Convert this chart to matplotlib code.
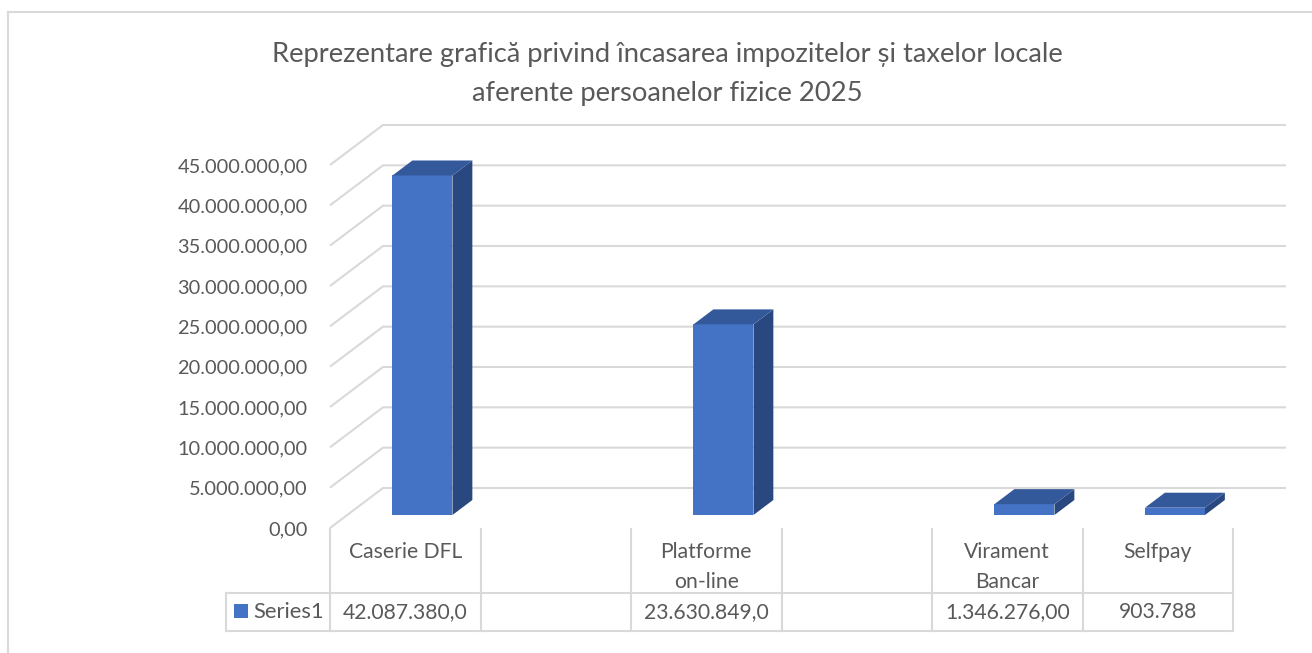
import matplotlib
matplotlib.use("Agg")
import matplotlib.pyplot as plt
from matplotlib.patches import Polygon, Rectangle
from matplotlib.lines import Line2D
import matplotlib.transforms as mtransforms

# ---------------- data ----------------
categories = ["Caserie DFL", "", "Platforme\non-line", "", "Virament\nBancar", "Selfpay"]
values = [42087380.0, None, 23630849.0, None, 1346276.00, 903788.0]
table_values = ["42.087.380,0", "", "23.630.849,0", "", "1.346.276,00", "903.788"]
series_name = "Series1"
yticks = [0, 5e6, 10e6, 15e6, 20e6, 25e6, 30e6, 35e6, 40e6, 45e6]
title = "Reprezentare grafică privind încasarea impozitelor și taxelor locale\naferente persoanelor fizice 2025"

# ---------------- style ----------------
W, H = 1312, 653
FRONT = "#4472C4"
TOP = "#34599B"
SIDE = "#294880"
GRID = "#D9D9D9"
TXT = "#595959"
FONT = "Lato"

plt.rcParams["font.family"] = [FONT, "DejaVu Sans"]

fig = plt.figure(figsize=(W / 100, H / 100), dpi=100)


def fx(px):
    return px / W


def fy(py):
    return 1 - py / H


# plot front plane in pixels
x0p, x1p = 330, 1233
y0p, y45p = 528, 165
ax = fig.add_axes([fx(x0p), fy(y0p), fx(x1p) - fx(x0p), fy(y45p) - fy(y0p)])
n = len(categories)
ax.set_xlim(0, n)
ax.set_ylim(0, 45e6)
for s in ax.spines.values():
    s.set_visible(False)
ax.set_xticks([])

px_per_cat = (x1p - x0p) / n
px_per_val = (y0p - y45p) / 45e6
DX = 53 / px_per_cat          # depth offset in category units
DY = 40 / px_per_val          # depth offset in value units


def fmt(v):
    s = f"{v:,.2f}"
    return s.replace(",", "X").replace(".", ",").replace("X", ".")


ax.set_yticks(yticks)
ax.set_yticklabels([fmt(v) for v in yticks], color=TXT, fontsize=14.4)
ax.tick_params(axis="y", length=0, pad=16)

# gridlines (side wall diagonal + back wall horizontal)
for v in yticks:
    ax.plot([0, DX, n + DX], [v, v + DY, v + DY], color=GRID, lw=1.5,
            clip_on=False, zorder=1, solid_capstyle="butt")

# bars (pseudo 3D)
f0, f1 = 0.325, 0.70
bw = 60 / px_per_cat
for i, v in enumerate(values):
    if v is None:
        continue
    xc = i + 0.5 + f0 * DX
    xl, xr = xc - bw / 2, xc + bw / 2
    b = f0 * DY
    ax.bar([xc], [v], width=bw, bottom=b, color=FRONT, zorder=3, clip_on=False,
           edgecolor="none")
    ddx = (f1 - f0) * DX
    ddy = (f1 - f0) * DY
    side = Polygon([(xr, b), (xr + ddx, b + ddy), (xr + ddx, b + v + ddy), (xr, b + v)],
                   closed=True, facecolor=SIDE, edgecolor="none", zorder=3, clip_on=False)
    top = Polygon([(xl, b + v), (xr, b + v), (xr + ddx, b + v + ddy), (xl + ddx, b + v + ddy)],
                  closed=True, facecolor=TOP, edgecolor="none", zorder=3, clip_on=False)
    ax.add_patch(side)
    ax.add_patch(top)

# ---------------- data table ----------------
bt = mtransforms.blended_transform_factory(ax.transData, fig.transFigure)
t_top, t_mid, t_bot = 529, 593, 631
leg_left = 226
for i in range(n + 1):
    fig.add_artist(Line2D([i, i], [fy(t_top), fy(t_bot)], transform=bt, color=GRID, lw=1.5))
for yy in (t_mid, t_bot):
    fig.add_artist(Line2D([fx(leg_left), fx(x1p)], [fy(yy), fy(yy)],
                          transform=fig.transFigure, color=GRID, lw=1.5))
fig.add_artist(Line2D([fx(leg_left), fx(leg_left)], [fy(t_mid), fy(t_bot)],
                      transform=fig.transFigure, color=GRID, lw=1.5))

TFS = 15.2
for i, c in enumerate(categories):
    fig.text(i + 0.5, fy(542), c, transform=bt, ha="center", va="top",
             fontsize=TFS, color=TXT, linespacing=1.6)
    fig.text(i + 0.5, fy(612), table_values[i], transform=bt, ha="center", va="center",
             fontsize=TFS, color=TXT)

fig.add_artist(Rectangle((fx(234), fy(618)), fx(14), 14 / H, transform=fig.transFigure,
                         facecolor=FRONT, edgecolor="none"))
fig.text(fx(253), fy(612), series_name, ha="left", va="center", fontsize=TFS + 0.6, color=TXT)

# title
fig.text(fx(667), fy(74), title, ha="center", va="center", fontsize=19.7, color=TXT,
         linespacing=1.68)

# chart border
fig.add_artist(Line2D([fx(8), fx(W + 5)], [fy(12), fy(12)], transform=fig.transFigure,
                      color=GRID, lw=1.5))
fig.add_artist(Line2D([fx(8), fx(8)], [fy(12), fy(H + 5)], transform=fig.transFigure,
                      color=GRID, lw=1.5))

fig.savefig("out.png", dpi=100)
